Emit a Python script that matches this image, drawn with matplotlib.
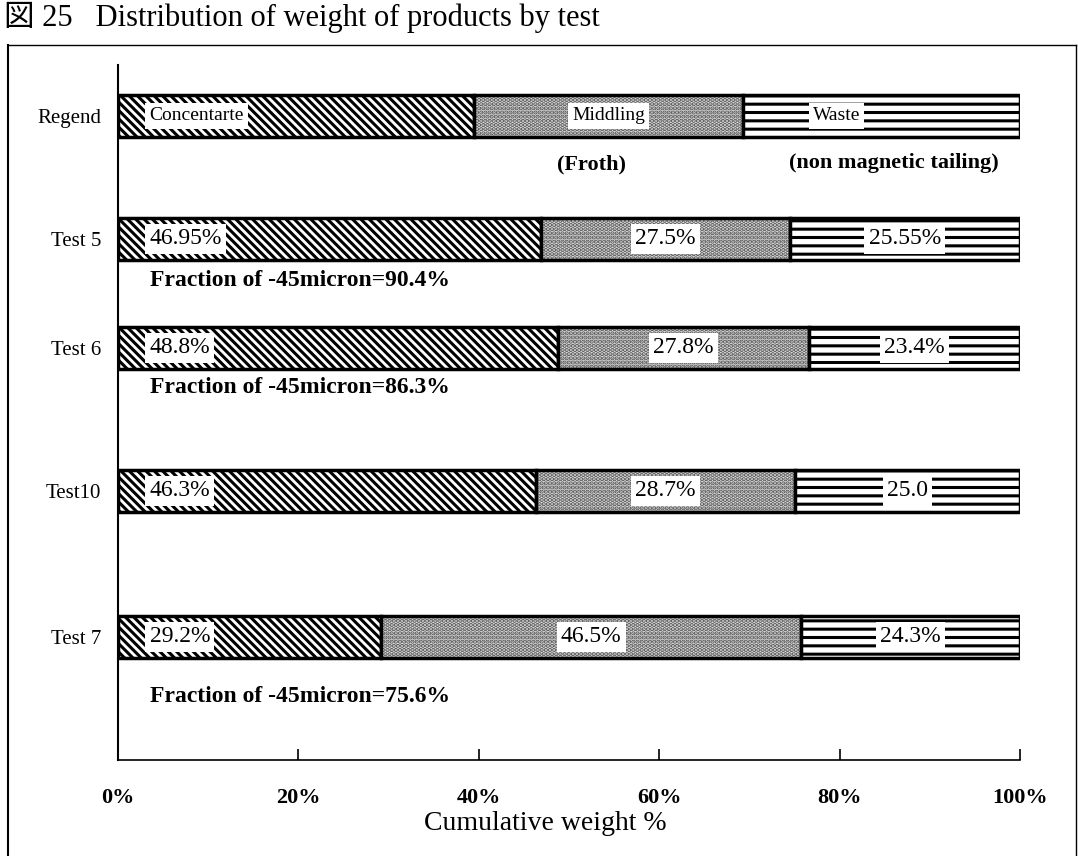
import matplotlib.pyplot as plt
from matplotlib.lines import Line2D

# data
tests = ["Regend", "Test 5", "Test 6", "Test10", "Test 7"]
concentrate = [39.5, 46.95, 48.8, 46.3, 29.2]
middling = [29.8, 27.5, 27.8, 28.7, 46.5]
waste = [30.7, 25.55, 23.4, 25.0, 24.3]
conc_labels = ["Concentarte", "46.95%", "48.8%", "46.3%", "29.2%"]
mid_labels = ["Middling", "27.5%", "27.8%", "28.7%", "46.5%"]
waste_labels = ["Waste", "25.55%", "23.4%", "25.0", "24.3%"]
fraction_notes = {"Test 5": "Fraction of -45micron=90.4%",
                  "Test 6": "Fraction of -45micron=86.3%",
                  "Test 7": "Fraction of -45micron=75.6%"}
x_ticks = [0, 20, 40, 60, 80, 100]
x_ticklabels = ["0%", "20%", "40%", "60%", "80%", "100%"]

# layout (pixel-like y units, top = 65, bottom = 760)
ypos = [116, 239, 348, 491, 637]
note_offset = {"Test 5": 42, "Test 6": 40, "Test 7": 60}
bar_h = 42

plt.rcParams["font.family"] = ["Liberation Serif", "Noto Sans CJK JP"]
plt.rcParams["hatch.linewidth"] = 2.2

fig = plt.figure(figsize=(10.78, 8.56), dpi=100)
W, H = 1078, 856
ax = fig.add_axes([118 / W, 1 - 760 / H, (1020 - 118) / W, (760 - 65) / H])

left_mid = [c for c in concentrate]
left_waste = [c + m for c, m in zip(concentrate, middling)]

ax.barh(ypos, concentrate, height=bar_h, color="white", edgecolor="black",
        hatch="\\\\\\\\", linewidth=2.5)
# middling: grey dots, then a black outline on top
ax.barh(ypos, middling, left=left_mid, height=bar_h, color="#dddddd",
        edgecolor="#555555", hatch="....", linewidth=0)
ax.barh(ypos, middling, left=left_mid, height=bar_h, fill=False,
        edgecolor="black", linewidth=2.5)
ax.barh(ypos, waste, left=left_waste, height=bar_h, color="white",
        edgecolor="black", hatch="--", linewidth=2.5)

box = dict(facecolor="white", edgecolor="none", pad=3)
for i, y in enumerate(ypos):
    small = i == 0
    fs = 14 if small else 17
    ax.text(3.5, y, conc_labels[i], ha="left", va="center", fontsize=fs, bbox=box)
    ax.text(left_mid[i] + middling[i] / 2, y, mid_labels[i], ha="center",
            va="center", fontsize=fs, bbox=box)
    wx = left_waste[i] + waste[i] / 2 - (5 if small else 0)
    ax.text(wx, y, waste_labels[i], ha="center", va="center", fontsize=fs, bbox=box)
    if tests[i] in fraction_notes:
        ax.text(3.5, y + note_offset[tests[i]], fraction_notes[tests[i]],
                ha="left", va="center", fontsize=17, fontweight="bold")

ax.text(52.5, 164, "(Froth)", ha="center", va="center", fontsize=16, fontweight="bold")
ax.text(86, 163, "(non magnetic tailing)", ha="center", va="center",
        fontsize=16, fontweight="bold")

ax.set_xlim(0, 100)
ax.set_ylim(760, 65)
ax.set_yticks(ypos)
ax.set_yticklabels(tests, fontsize=15)
ax.tick_params(axis="y", length=0, pad=12)
ax.set_xticks(x_ticks)
ax.set_xticklabels(x_ticklabels, fontsize=16, fontweight="bold")
ax.tick_params(axis="x", direction="in", length=8, pad=20, width=1.2)
for s in ["top", "right"]:
    ax.spines[s].set_visible(False)
ax.spines["left"].set_linewidth(1.5)
ax.spines["bottom"].set_linewidth(1.2)

fig.text(545 / W, 1 - 824 / H, "Cumulative weight %", ha="center", va="center",
         fontsize=20)

# outer frame of the scanned page
fig.add_artist(Line2D([8 / W, 8 / W], [0, 1 - 45 / H], color="black", lw=1.5))
fig.add_artist(Line2D([8 / W, 1076 / W], [1 - 45 / H, 1 - 45 / H], color="black", lw=1))
fig.add_artist(Line2D([1076 / W, 1076 / W], [1 - 45 / H, 0], color="black", lw=1))

# page title above the frame
fig.text(4 / W, 1 - 2 / H, "図 25   Distribution of weight of products by test",
         ha="left", va="top", fontsize=22)

fig.savefig("out.png", dpi=100)
